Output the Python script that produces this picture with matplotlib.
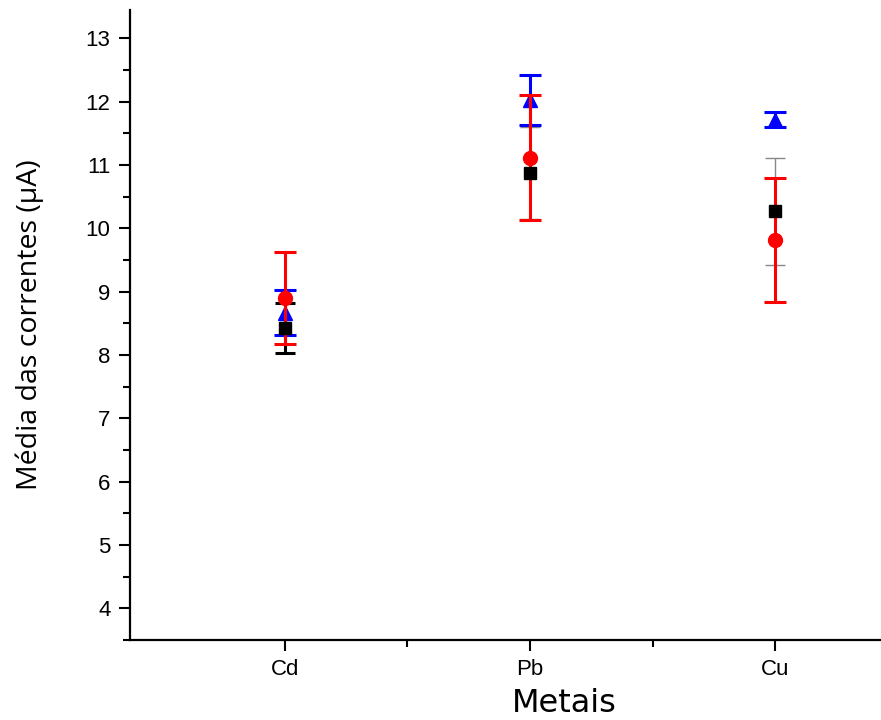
import matplotlib
matplotlib.use("Agg")
import matplotlib.pyplot as plt
from matplotlib.ticker import MultipleLocator, FixedLocator

plt.rcParams["font.family"] = ["Liberation Sans", "DejaVu Sans"]

metals = ["Cd", "Pb", "Cu"]
black_vals = [8.43, 10.88, 10.27]
black_err = [0.40, 0.73, 0.85]
red_vals = [8.90, 11.12, 9.82]
red_err = [0.73, 0.98, 0.98]
blue_vals = [8.67, 12.03, 11.72]
blue_err = [0.36, 0.39, 0.12]

fig = plt.figure(figsize=(8.81, 7.2), dpi=100)
ax = fig.add_axes([130/881, 80/720, 751/881, 630/720])
x = [1, 2, 3]

# black series: error bars thick at Cd, thin grey elsewhere
black_styles = [("black", 2.2), ("#888888", 1.0), ("#888888", 1.0)]
for xi, v, e, (c, lw) in zip(x, black_vals, black_err, black_styles):
    ax.errorbar([xi], [v], yerr=[e], fmt="none", ecolor=c, elinewidth=lw,
                capsize=7, capthick=lw, zorder=2)
ax.plot(x, black_vals, "s", color="black", ms=8.5, ls="none", zorder=5)

ax.errorbar(x, blue_vals, yerr=blue_err, fmt="^", color="#0000ff", ms=10,
            ecolor="#0000ff", elinewidth=2.2, capsize=8, capthick=2.2, zorder=3)
ax.errorbar(x, red_vals, yerr=red_err, fmt="o", color="#ff0000", ms=10,
            ecolor="#ff0000", elinewidth=2.2, capsize=8, capthick=2.2, zorder=4)

ax.set_xlim(0.37, 3.43)
ax.set_ylim(3.5, 13.45)
ax.set_xticks(x)
ax.set_xticklabels(metals, fontsize=16)
ax.xaxis.set_minor_locator(FixedLocator([1.5, 2.5]))
ax.yaxis.set_minor_locator(MultipleLocator(0.5))
ax.set_yticks(range(4, 14))
ax.set_yticklabels([str(v) for v in range(4, 14)], fontsize=16)

for s in ["top", "right"]:
    ax.spines[s].set_visible(False)
for s in ["left", "bottom"]:
    ax.spines[s].set_linewidth(1.6)

ax.tick_params(axis="both", which="major", direction="out", length=8, width=1.5,
               pad=6)
ax.tick_params(axis="x", which="major", pad=6)
ax.tick_params(axis="both", which="minor", direction="out", length=5, width=1.5)

ax.set_xlabel("Metais", fontsize=23, family=["DejaVu Sans"])
ax.set_ylabel("Média das correntes (µA)", fontsize=20.5,
              family=["Open Sans", "DejaVu Sans"])
ax.xaxis.set_label_coords((564 - 130) / 751, (640 - 703) / 630)
ax.yaxis.set_label_coords((30 - 130) / 751, (640 - 325) / 630)
ax.xaxis.label.set_va("center")
ax.yaxis.label.set_va("center")

fig.savefig("out.png", dpi=100)
